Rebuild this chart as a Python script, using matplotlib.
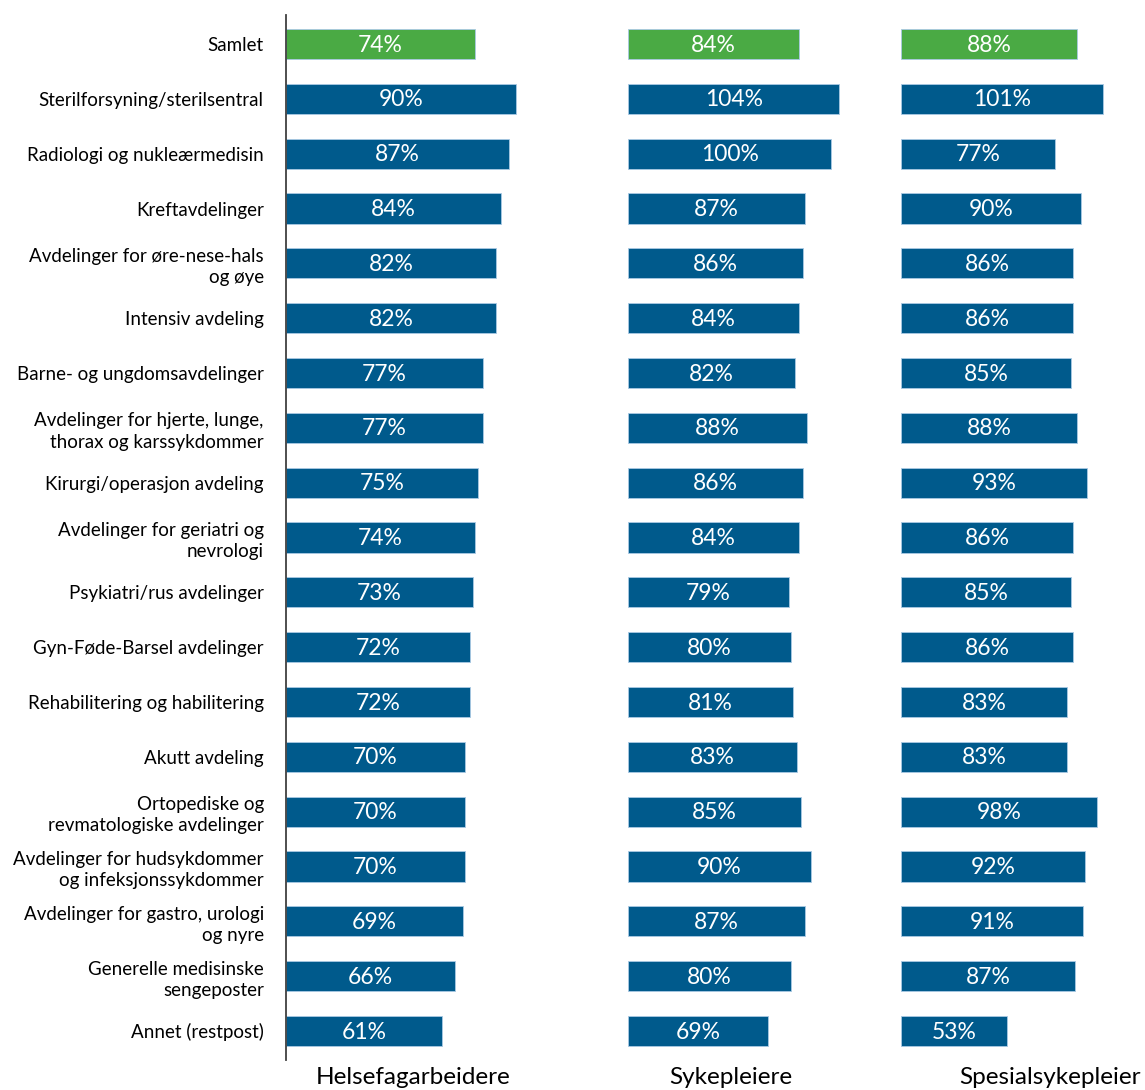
import matplotlib.pyplot as plt

plt.rcParams['font.family'] = ['Lato', 'DejaVu Sans']

# kategorier (fra toppen)
kategorier = [
    "Samlet",
    "Sterilforsyning/sterilsentral",
    "Radiologi og nukleærmedisin",
    "Kreftavdelinger",
    "Avdelinger for øre-nese-hals\nog øye",
    "Intensiv avdeling",
    "Barne- og ungdomsavdelinger",
    "Avdelinger for hjerte, lunge,\nthorax og karssykdommer",
    "Kirurgi/operasjon avdeling",
    "Avdelinger for geriatri og\nnevrologi",
    "Psykiatri/rus avdelinger",
    "Gyn-Føde-Barsel avdelinger",
    "Rehabilitering og habilitering",
    "Akutt avdeling",
    "Ortopediske og\nrevmatologiske avdelinger",
    "Avdelinger for hudsykdommer\nog infeksjonssykdommer",
    "Avdelinger for gastro, urologi\nog nyre",
    "Generelle medisinske\nsengeposter",
    "Annet (restpost)",
]

helsefagarbeidere = [74, 90, 87, 84, 82, 82, 77, 77, 75, 74, 73, 72, 72, 70, 70, 70, 69, 66, 61]
sykepleiere = [84, 104, 100, 87, 86, 84, 82, 88, 86, 84, 79, 80, 81, 83, 85, 90, 87, 80, 69]
spesialsykepleiere = [88, 101, 77, 90, 86, 86, 85, 88, 93, 86, 85, 86, 83, 83, 98, 92, 91, 87, 53]

grupper = ["Helsefagarbeidere", "Sykepleiere", "Spesialsykepleier"]
serier = [helsefagarbeidere, sykepleiere, spesialsykepleiere]

BLA = '#005a8c'
GRONN = '#4aaa44'
KANT = '#a9c9e4'

fig = plt.figure(figsize=(11.45, 10.9), dpi=100)
W, H = 1145, 1090

# panelposisjoner i piksler: venstre kant, bredde
paneler = [(286, 307), (628, 244), (901, 240)]
tittel_x = [413, 731, 1050]
ybunn, yhoyde = 30, 1045

y = list(range(len(kategorier)))
farger = [GRONN] + [BLA] * (len(kategorier) - 1)

for i, ((venstre, bredde), verdier) in enumerate(zip(paneler, serier)):
    ax = fig.add_axes([venstre / W, ybunn / H, bredde / W, yhoyde / H])
    ax.barh(y, verdier, height=0.55, color=farger, edgecolor=KANT, linewidth=0.6)
    ax.set_xlim(0, 120)
    ax.set_ylim(len(kategorier) - 0.47, -0.53)
    for yy, v in zip(y, verdier):
        ax.text(v / 2, yy + 0.02, f"{v}%", ha='center', va='center', color='white', fontsize=16.5)
    ax.set_xticks([])
    for s in ['top', 'right', 'bottom']:
        ax.spines[s].set_visible(False)
    if i == 0:
        ax.spines['left'].set_color('#404040')
        ax.spines['left'].set_linewidth(1.3)
        ax.set_yticks(y)
        ax.set_yticklabels(kategorier, fontsize=13.5, linespacing=1.3)
        ax.tick_params(axis='y', length=0, pad=16)
    else:
        ax.spines['left'].set_visible(False)
        ax.set_yticks([])
    fig.text(tittel_x[i] / W, 12 / H, grupper[i], ha='center', va='center', fontsize=17.5)

fig.savefig('out.png', dpi=100)
